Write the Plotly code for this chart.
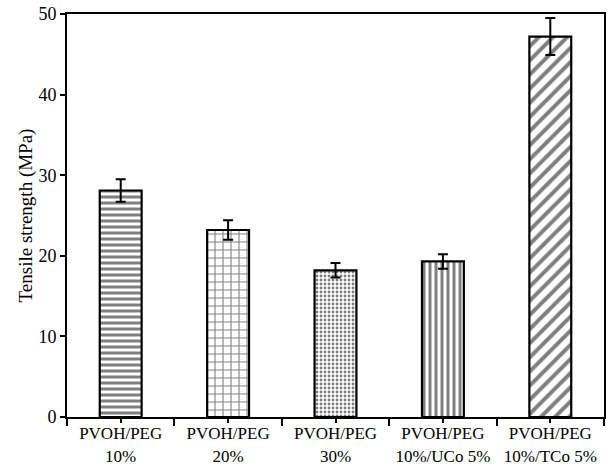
import plotly.graph_objects as go

categories = ["PVOH/PEG<br>10%", "PVOH/PEG<br>20%", "PVOH/PEG<br>30%",
              "PVOH/PEG<br>10%/UCo 5%", "PVOH/PEG<br>10%/TCo 5%"]
strength = [28.1, 23.2, 18.2, 19.3, 47.2]
strength_err = [1.4, 1.2, 0.9, 0.9, 2.3]
patterns = ["-", "+", ".", "|", "/"]
pattern_sizes = [6, 8, 4, 6, 10]
pattern_solidity = [0.5, 0.25, 0.4, 0.5, 0.4]

positions = list(range(len(categories)))

fig = go.Figure()
fig.add_trace(go.Bar(
    x=positions,
    y=strength,
    width=0.39,
    marker=dict(
        color="white",
        line=dict(color="black", width=2.2),
        pattern=dict(shape=patterns, size=pattern_sizes, solidity=pattern_solidity,
                     fgcolor="black", bgcolor="white", fillmode="overlay"),
    ),
    error_y=dict(type="data", array=strength_err, color="black", thickness=2, width=5),
    showlegend=False,
))

font_family = "Liberation Serif"

fig.update_layout(
    width=607, height=464,
    margin=dict(l=67, r=3, t=14, b=47),
    plot_bgcolor="white", paper_bgcolor="white",
    font=dict(family=font_family, color="black", size=17),
)
fig.update_xaxes(
    range=[-0.5, 4.5], automargin=False,
    tickmode="array", tickvals=positions, ticktext=categories,
    ticks="outside", ticklen=4, tickwidth=1.5, tickcolor="black",
    ticklabelstandoff=-4,
    showline=True, linecolor="black", linewidth=2, mirror=True,
    showgrid=False, zeroline=False,
    tickfont=dict(size=17),
    minor=dict(tickmode="array", tickvals=[p - 0.5 for p in positions] + [4.5],
               ticks="outside", ticklen=7, tickwidth=1.5, tickcolor="black"),
)
fig.update_yaxes(
    range=[0, 50], dtick=10, automargin=False,
    ticks="outside", ticklen=5, tickwidth=1.5, tickcolor="black",
    showline=True, linecolor="black", linewidth=2, mirror=True,
    showgrid=False, zeroline=False,
    tickfont=dict(size=18),
    title=dict(text="Tensile strength (MPa)", font=dict(size=19), standoff=1),
)

fig.write_html("out.html")
